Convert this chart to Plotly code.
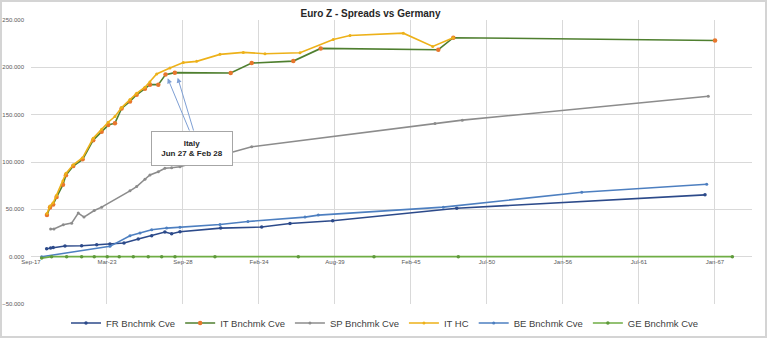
import pandas as pd
import plotly.graph_objects as go

# ---------------- data ----------------
axis_start = "2017-09-21"
axis_end = "2069-09-03"
tick_step_days = 2000
tick_labels = ["Sep-17", "Mar-23", "Sep-28", "Feb-34", "Aug-39", "Feb-45",
               "Jul-50", "Jan-56", "Jul-61", "Jan-67"]
y_ticks = [-50, 0, 50, 100, 150, 200, 250]

fr_dates = ["2018-11-07", "2019-02-20", "2019-04-28", "2020-03-03", "2021-05-16", "2022-06-16",
            "2023-05-31", "2024-06-03", "2025-06-14", "2026-06-02", "2027-05-16", "2027-11-09",
            "2028-06-16", "2031-05-23", "2034-05-06", "2036-05-20", "2039-06-17", "2048-05-25",
            "2066-04-15"]
fr_vals = [8.4, 9.1, 9.8, 11.2, 11.6, 12.6, 13.3, 14.4, 18.6, 22.1, 26.0, 24.2, 26.3, 30.2,
           31.3, 35.1, 37.9, 51.2, 65.3]

it_dates = ["2018-11-15", "2019-02-02", "2019-04-28", "2019-07-26", "2020-01-10", "2020-03-28",
            "2020-10-07", "2021-06-11", "2022-03-16", "2022-10-24", "2023-04-15", "2023-10-09",
            "2024-04-02", "2024-11-08", "2025-05-02", "2025-12-07", "2026-04-17", "2026-11-23",
            "2027-06-01", "2028-02-01", "2032-02-10", "2033-08-16", "2036-08-15", "2038-08-06",
            "2047-01-26", "2048-02-25", "2067-01-04"]
it_vals = [44.0, 52.0, 55.0, 63.0, 76.0, 86.0, 95.8, 102.8, 123.0, 132.0, 139.0, 141.0, 156.5,
           164.0, 171.0, 177.5, 181.7, 181.7, 192.3, 194.4, 194.0, 204.5, 206.6, 220.0, 218.6,
           231.3, 228.4]

sp_dates = ["2019-02-20", "2019-05-18", "2020-01-18", "2020-08-26", "2021-02-16", "2021-07-16",
            "2022-04-13", "2022-10-24", "2024-11-08", "2025-05-02", "2025-12-07", "2026-04-17",
            "2026-11-23", "2027-05-16", "2027-11-09", "2028-06-16", "2033-08-16", "2046-10-31",
            "2048-10-19", "2066-07-11"]
sp_vals = [29.2, 29.2, 33.7, 35.4, 46.0, 41.8, 48.7, 52.3, 69.5, 74.0, 81.8, 86.3, 89.8, 93.4,
           94.0, 95.0, 116.1, 140.7, 144.2, 169.5]

ithc_dates = ["2018-11-15", "2019-02-02", "2019-04-28", "2019-07-26", "2020-01-10", "2020-03-28",
              "2020-10-07", "2021-06-11", "2022-03-16", "2022-10-24", "2023-04-15", "2023-10-09",
              "2024-04-02", "2024-11-08", "2025-05-02", "2025-12-07", "2026-04-17", "2026-10-11",
              "2027-09-25", "2028-09-11", "2029-08-28", "2031-05-04", "2033-01-07", "2034-08-01",
              "2037-02-08", "2039-07-02", "2040-09-15", "2044-07-19", "2046-09-01", "2048-02-25"]
ithc_vals = [45.5, 53.5, 57.0, 65.0, 80.0, 88.0, 97.0, 104.5, 125.0, 134.5, 142.0, 148.0, 157.5,
             166.0, 172.5, 179.0, 184.5, 193.0, 199.3, 205.0, 206.3, 213.7, 215.8, 214.4, 215.4,
             229.5, 233.7, 236.1, 222.1, 231.3]

be_dates = ["2018-06-28", "2023-05-31", "2024-11-08", "2025-07-29", "2026-06-02", "2027-07-01",
            "2028-06-16", "2031-05-04", "2033-05-10", "2037-06-19", "2038-06-04", "2047-06-07",
            "2057-05-28", "2066-05-30"]
be_vals = [0.0, 10.9, 22.1, 24.9, 28.4, 30.2, 31.0, 34.0, 37.2, 41.8, 43.9, 52.3, 68.1, 76.5]

ge_dates = ["2018-06-28", "2019-03-17", "2020-04-16", "2021-05-16", "2022-04-13", "2023-03-20",
            "2024-01-30", "2025-02-03", "2026-03-04", "2027-02-20", "2028-02-05", "2030-12-23",
            "2036-12-25", "2042-06-09", "2048-07-06", "2068-04-04"]
ge_vals = [-1.5, 0, 0, 0, 0, 0, 0, 0, 0, 0, 0, 0, 0, 0, 0, 0]

# ---------------- figure ----------------
FONT = "Liberation Sans"
start = pd.Timestamp(axis_start)
tick_vals = [start + pd.Timedelta(days=tick_step_days * k) for k in range(len(tick_labels))]

series = [
    ("FR Bnchmk Cve", fr_dates, fr_vals, "#2C4A8A", "#2C4A8A", 3.5),
    ("IT Bnchmk Cve", it_dates, it_vals, "#4F7F2F", "#E8762D", 4.5),
    ("SP Bnchmk Cve", sp_dates, sp_vals, "#8C8C8C", "#8C8C8C", 3),
    ("IT HC", ithc_dates, ithc_vals, "#EDB119", "#EDB119", 3),
    ("BE Bnchmk Cve", be_dates, be_vals, "#4D7FC0", "#4D7FC0", 3),
    ("GE Bnchmk Cve", ge_dates, ge_vals, "#6FAD45", "#5E9A3A", 3.5),
]

fig = go.Figure()
for name, xs, ys, lc, mc, ms in series:
    fig.add_trace(go.Scatter(
        x=pd.to_datetime(xs), y=ys, name=name, mode="lines+markers",
        line=dict(color=lc, width=1.6),
        marker=dict(color=mc, size=ms, symbol="circle"),
    ))

W, H = 768, 339
L, R, T, B = 31, 16, 20, 35
pw, ph = W - L - R, H - T - B


def px_x(px):
    return (px - L) / pw


def px_y(py):
    return (H - B - py) / ph


# zero-line position for the date axis labels (Excel crosses at 0)
zero_pos = (0 - (-50)) / (250 - (-50))

fig.update_layout(
    width=W, height=H,
    margin=dict(l=L, r=R, t=T, b=B, autoexpand=False),
    paper_bgcolor="white", plot_bgcolor="white",
    font=dict(family=FONT, color="#404040"),
    title=dict(text="<b>Euro Z - Spreads vs Germany</b>", x=px_x(370.5), xref="paper",
               xanchor="center", y=1 - 13 / H, yref="container", yanchor="middle",
               font=dict(family=FONT, size=10, color="#262626")),
    xaxis=dict(type="date", range=[start, pd.Timestamp(axis_end)],
               tickvals=tick_vals, ticktext=tick_labels,
               showgrid=True, gridcolor="#D9D9D9", gridwidth=1,
               zeroline=False, showline=False, ticks="",
               anchor="free", position=zero_pos,
               tickfont=dict(family=FONT, size=6, color="#595959")),
    yaxis=dict(range=[-50, 250], tickvals=y_ticks, tickformat=".3f",
               showgrid=True, gridcolor="#D9D9D9", gridwidth=1,
               zeroline=False, showline=False, ticks="", ticklabelstandoff=6,
               tickfont=dict(family=FONT, size=6, color="#595959")),
    legend=dict(orientation="h", x=px_x(385), xanchor="center", y=px_y(323), yanchor="middle",
                font=dict(family=FONT, size=9.5, color="#404040"),
                itemwidth=30, bgcolor="rgba(0,0,0,0)"),
    showlegend=True,
)

# chart frame
fig.add_shape(type="rect", xref="paper", yref="paper",
              x0=px_x(1), x1=px_x(766), y0=px_y(337), y1=px_y(1),
              line=dict(color="#D4D4D4", width=2), fillcolor="rgba(0,0,0,0)", layer="below")

# callout box
fig.add_annotation(xref="paper", yref="paper", x=px_x(191.7), y=px_y(148.8),
                   xanchor="center", yanchor="middle",
                   text="<b>Italy</b><br><b>Jun 27 &amp; Feb 28</b>", showarrow=False,
                   font=dict(family=FONT, size=8, color="#262626"),
                   bgcolor="white", bordercolor="#A6A6A6", borderwidth=1,
                   width=78, height=31, align="center")

# arrows to the two Italian points
for hx, hy, tx, ty in [(167.7, 78.3, 190.0, 132.0), (177.7, 77.7, 194.0, 132.0)]:
    fig.add_annotation(xref="paper", yref="paper", x=px_x(hx), y=px_y(hy),
                       ax=tx - hx, ay=ty - hy, axref="pixel", ayref="pixel",
                       text="", showarrow=True, arrowhead=2, arrowsize=1, arrowwidth=1,
                       arrowcolor="#7E9FD4")

fig.write_html("out.html")
